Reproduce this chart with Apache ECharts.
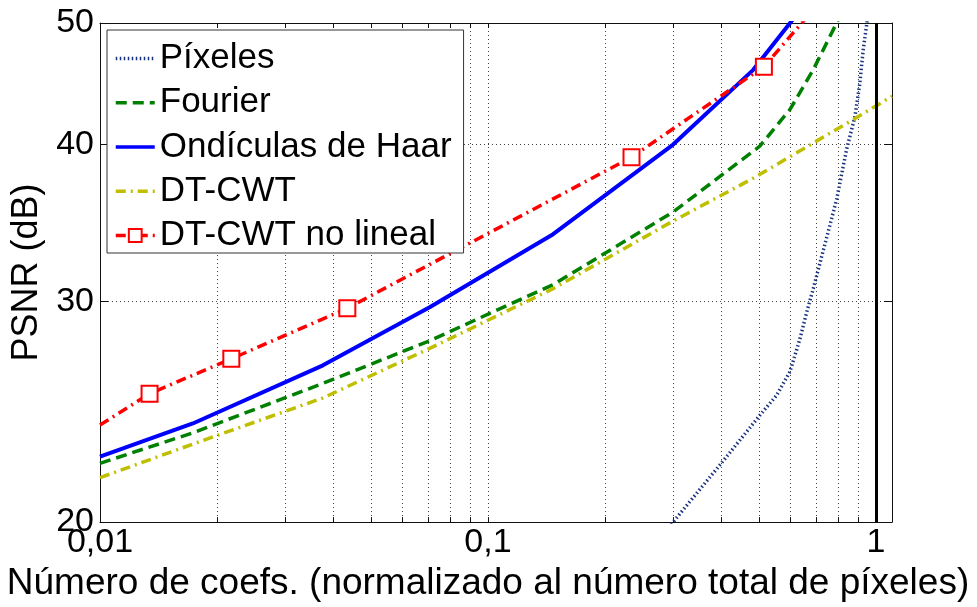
<!DOCTYPE html>
<html>
<head>
<meta charset="utf-8">
<script src="https://cdn.jsdelivr.net/npm/echarts/dist/echarts.min.js"></script>
<style>
html,body{margin:0;padding:0;background:#fff;}
#chart{width:977px;height:607px;}
</style>
</head>
<body>
<div id="chart"></div>
<script>
// ---- data ----
const seriesNames = ['Píxeles', 'Fourier', 'Ondículas de Haar', 'DT-CWT', 'DT-CWT no lineal'];

const pixelesX = [0.283, 0.300, 0.396, 0.502, 0.5545, 0.600, 0.637, 0.663, 0.689, 0.792, 0.840, 0.883, 0.909, 0.927, 0.946, 0.954];
const pixelesY = [19.59, 20.0, 22.21, 24.33, 25.24, 26.35, 28.0, 29.40, 30.68, 36.17, 39.64, 42.12, 44.78, 47.58, 49.8, 50.8];

const fourierX = [0.01, 0.01735, 0.03755, 0.07073, 0.1472, 0.300, 0.502, 0.600, 0.689, 0.857];
const fourierY = [22.28, 23.56, 25.80, 27.90, 30.93, 35.34, 39.88, 42.65, 45.88, 52.5];

const haarX = [0.01, 0.01735, 0.03755, 0.07073, 0.1472, 0.300, 0.4827, 0.70];
const haarY = [22.55, 23.97, 26.67, 29.67, 33.93, 40.0, 45.88, 53.1];

const dtcwtX = [0.01, 0.01735, 0.03755, 0.07073, 0.1472, 0.300, 0.4827, 0.874, 1.1];
const dtcwtY = [21.70, 23.08, 25.12, 27.51, 30.70, 34.76, 37.60, 41.88, 43.7];

const nolinX = [0.01, 0.01342, 0.0218, 0.0434, 0.2344, 0.5143, 0.70];
const nolinY = [23.9, 25.32, 26.99, 29.62, 39.08, 46.15, 51.5];

const xTickValues = [0.01,0.02,0.03,0.04,0.05,0.06,0.07,0.08,0.09,0.1,0.2,0.3,0.4,0.5,0.6,0.7,0.8,0.9,1];
const xLabelValues = [0.01, 0.1, 1];
const xLabelTexts = ['0,01', '0,1', '1'];
const yTickValues = [20, 30, 40, 50];
const refLineX = 1;

const xTitle = 'Número de coefs. (normalizado al número total de píxeles)';
const yTitle = 'PSNR (dB)';

// ---- build ----
const FONT = '"Liberation Sans", Arial, Helvetica, sans-serif';
const zip = (xs, ys) => xs.map((x, i) => [x, ys[i]]);

function xFmt(v) {
  for (let i = 0; i < xLabelValues.length; i++) {
    if (Math.abs(Math.log10(v) - Math.log10(xLabelValues[i])) < 1e-6) return xLabelTexts[i];
  }
  return '';
}

const nolinData = zip(nolinX, nolinY).map((p, i, a) =>
  (i === 0 || i === a.length - 1) ? { value: p, symbol: 'none' } : p);

const hiddenSym = { color: 'rgba(0,0,0,0)', borderColor: 'rgba(0,0,0,0)', borderWidth: 0 };
const legendData = seriesNames.map((n, i) =>
  i < seriesNames.length - 1 ? { name: n, itemStyle: hiddenSym } : { name: n });

const baseX = {
  type: 'log', logBase: 10, min: 0.01, max: 1.1,
  axisLine: { show: true, onZero: false, lineStyle: { color: '#111', width: 1 } },
  axisTick: { show: true, inside: true, length: 5, customValues: xTickValues, lineStyle: { color: '#111' } },
  minorTick: { show: false }
};
const baseY = {
  type: 'log', logBase: 10, min: 20, max: 50,
  axisLine: { show: true, onZero: false, lineStyle: { color: '#111', width: 1 } },
  axisTick: { show: true, inside: true, length: 8, customValues: yTickValues, lineStyle: { color: '#111' } }
};

const option = {
  animation: false,
  backgroundColor: '#fff',
  textStyle: { fontFamily: FONT },
  grid: { left: 100, top: 23, right: 85, bottom: 83, containLabel: false },
  xAxis: [
    Object.assign({}, baseX, {
      position: 'bottom',
      name: xTitle, nameLocation: 'middle', nameGap: 39,
      nameTextStyle: { fontSize: 37, color: '#000', fontFamily: FONT, padding: [0, 16, 0, 0] },
      axisLabel: { show: true, customValues: xLabelValues, formatter: xFmt, fontSize: 34, color: '#000', margin: 4, fontFamily: FONT },
      splitLine: { show: true, lineStyle: { color: '#444', width: 1, type: [1, 3] } }
    }),
    Object.assign({}, baseX, {
      position: 'top',
      axisLabel: { show: false },
      splitLine: { show: false }
    })
  ],
  yAxis: [
    Object.assign({}, baseY, {
      position: 'left',
      name: yTitle, nameLocation: 'middle', nameGap: 54, nameRotate: 90,
      nameTextStyle: { fontSize: 36, color: '#000', fontFamily: FONT },
      axisLabel: { show: true, customValues: yTickValues, fontSize: 34, color: '#000', margin: 6, fontFamily: FONT },
      splitLine: { show: true, lineStyle: { color: '#444', width: 1, type: [1, 3] } }
    }),
    Object.assign({}, baseY, {
      position: 'right',
      axisLabel: { show: false },
      splitLine: { show: false }
    })
  ],
  legend: {
    orient: 'vertical', left: 107, top: 30,
    padding: [11, 12, 0, 7], itemGap: 9.25,
    itemWidth: 39, itemHeight: 16,
    backgroundColor: '#fff', borderColor: '#333', borderWidth: 1, borderRadius: 0,
    lineStyle: { width: 3.5 },
    textStyle: { fontSize: 35, color: '#000', fontFamily: FONT, lineHeight: 35 },
    data: legendData
  },
  series: [
    {
      name: seriesNames[0], type: 'line', data: zip(pixelesX, pixelesY),
      xAxisIndex: 0, yAxisIndex: 0, symbol: 'none', clip: true,
      lineStyle: { color: '#1a3380', width: 3.5, type: [1.5, 2.5] },
      itemStyle: { color: '#1a3380' },
      markLine: {
        silent: true, symbol: ['none', 'none'], animation: false,
        label: { show: false },
        lineStyle: { color: '#000', width: 3, type: 'solid' },
        data: [{ xAxis: refLineX }]
      }
    },
    {
      name: seriesNames[1], type: 'line', data: zip(fourierX, fourierY),
      symbol: 'none', clip: true,
      lineStyle: { color: '#008000', width: 3.5, type: [11, 6] },
      itemStyle: { color: '#008000' }
    },
    {
      name: seriesNames[2], type: 'line', data: zip(haarX, haarY),
      symbol: 'none', clip: true,
      lineStyle: { color: '#0000ff', width: 4, type: 'solid' },
      itemStyle: { color: '#0000ff' }
    },
    {
      name: seriesNames[3], type: 'line', data: zip(dtcwtX, dtcwtY),
      symbol: 'none', clip: true,
      lineStyle: { color: '#bfbf00', width: 3.5, type: [10, 5, 2, 5] },
      itemStyle: { color: '#bfbf00' }
    },
    {
      name: seriesNames[4], type: 'line', data: nolinData,
      symbol: 'emptyRect', symbolSize: 16, showSymbol: true, clip: true,
      lineStyle: { color: '#ff0000', width: 3.5, type: [10, 5, 2, 5] },
      itemStyle: { color: '#ff0000', borderColor: '#ff0000', borderWidth: 3.5 }
    }
  ]
};

const chart = echarts.init(document.getElementById('chart'), null, { renderer: 'canvas' });
chart.setOption(option);
</script>
</body>
</html>
